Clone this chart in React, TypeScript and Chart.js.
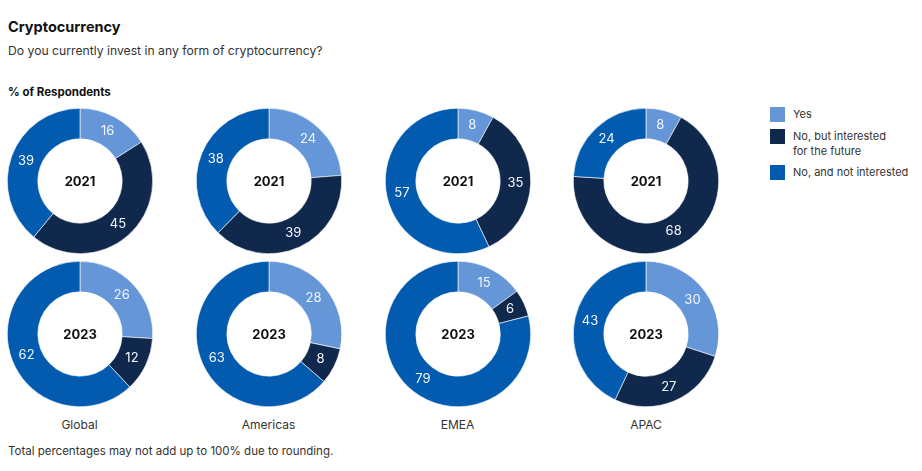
import React, { useEffect, useRef } from "react";
import { Chart, registerables } from "chart.js";

Chart.register(...registerables);

const categories = ["Yes", "No, but interested for the future", "No, and not interested"];
const legendLines = [["Yes"], ["No, but interested", "for the future"], ["No, and not interested"]];
const regions = ["Global", "Americas", "EMEA", "APAC"];
const years = ["2021", "2023"];

const yes2021 = [16, 24, 8, 8];
const interested2021 = [45, 39, 35, 68];
const notInterested2021 = [39, 38, 57, 24];

const yes2023 = [26, 28, 15, 30];
const interested2023 = [12, 8, 6, 27];
const notInterested2023 = [62, 63, 79, 43];

const colors = ["#6496d8", "#11284d", "#035bb0"];

const FONT = "Inter, 'Open Sans', sans-serif";

const labelPlugin = {
  id: "ringLabels",
  afterDatasetsDraw(chart: any) {
    const ctx = chart.ctx;
    const meta = chart.getDatasetMeta(0);
    const data = chart.data.datasets[0].data;
    ctx.save();
    ctx.textAlign = "center";
    ctx.textBaseline = "middle";
    ctx.fillStyle = "#f2f6fc";
    ctx.font = `400 13px ${FONT}`;
    meta.data.forEach((arc: any, i: number) => {
      const p = arc.tooltipPosition();
      ctx.fillText(String(data[i]), p.x, p.y);
    });
    const ca = chart.chartArea;
    ctx.fillStyle = "#111111";
    ctx.font = `700 13px ${FONT}`;
    ctx.fillText(chart.options.plugins.centerText.text, (ca.left + ca.right) / 2, (ca.top + ca.bottom) / 2 + 1);
    ctx.restore();
  },
};

function Donut({ values, year, left, top, size }: { values: number[]; year: string; left: number; top: number; size: number }) {
  const ref = useRef<HTMLCanvasElement>(null);
  useEffect(() => {
    const chart = new Chart(ref.current!, {
      type: "doughnut",
      data: {
        labels: categories,
        datasets: [
          {
            data: values,
            backgroundColor: colors,
            borderColor: "#ffffff",
            borderWidth: 0.6,
          },
        ],
      },
      options: {
        animation: false,
        responsive: false,
        cutout: "58%",
        layout: { padding: 0 },
        plugins: {
          legend: { display: false },
          tooltip: { enabled: false },
          centerText: { text: year },
        } as any,
      },
      plugins: [labelPlugin],
    });
    return () => chart.destroy();
  }, []);
  return (
    <canvas
      ref={ref}
      width={size}
      height={size}
      style={{ position: "absolute", left, top, width: size, height: size }}
    />
  );
}

export default function App() {
  const size = 146;
  const centersX = [79.5, 268.5, 457.5, 646];
  const centersY = [180.5, 334];
  const rowsData = [
    regions.map((_, i) => [yes2021[i], interested2021[i], notInterested2021[i]]),
    regions.map((_, i) => [yes2023[i], interested2023[i], notInterested2023[i]]),
  ];
  return (
    <div
      style={{
        position: "absolute",
        left: 0,
        top: 0,
        width: 922,
        height: 471,
        background: "#fff",
        fontFamily: FONT,
        color: "#111",
        overflow: "hidden",
      }}
    >
      <div style={{ position: "absolute", left: 8, top: 18, fontSize: 14.5, fontWeight: 700, lineHeight: "18px" }}>
        Cryptocurrency
      </div>
      <div style={{ position: "absolute", left: 8, top: 42, fontSize: 12.2, color: "#333", lineHeight: "18px" }}>
        Do you currently invest in any form of cryptocurrency?
      </div>
      <div style={{ position: "absolute", left: 8, top: 84, fontSize: 11.5, fontWeight: 700, lineHeight: "16px" }}>
        % of Respondents
      </div>
      {rowsData.map((row, r) =>
        row.map((vals, c) => (
          <Donut
            key={`${r}-${c}`}
            values={vals}
            year={years[r]}
            left={centersX[c] - size / 2}
            top={centersY[r] - size / 2}
            size={size}
          />
        ))
      )}
      {regions.map((name, c) => (
        <div
          key={name}
          style={{
            position: "absolute",
            left: centersX[c] - 60,
            width: 120,
            top: 417,
            textAlign: "center",
            fontSize: 12,
            color: "#333",
            lineHeight: "16px",
          }}
        >
          {name}
        </div>
      ))}
      <div style={{ position: "absolute", left: 8, top: 443, fontSize: 11.5, color: "#333", lineHeight: "16px" }}>
        Total percentages may not add up to 100% due to rounding.
      </div>
      {legendLines.map((lines, i) => (
        <div key={i} style={{ position: "absolute", left: 770, top: [107, 129, 165][i] }}>
          <div style={{ position: "absolute", left: 0, top: 0, width: 15, height: 15, background: colors[i] }} />
          <div
            style={{
              position: "absolute",
              left: 23,
              top: 0,
              width: 140,
              fontSize: 11,
              color: "#333",
              lineHeight: "15px",
              whiteSpace: "nowrap",
            }}
          >
            {lines.map((l, j) => (
              <div key={j}>{l}</div>
            ))}
          </div>
        </div>
      ))}
    </div>
  );
}
